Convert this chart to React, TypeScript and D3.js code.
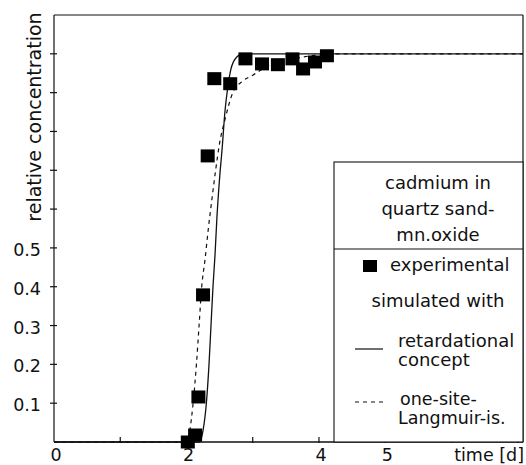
import React from "react";
import * as d3 from "d3";

const W = 526;
const H = 465;

// experimental points [time (d), relative concentration]
const expTime = [2.02, 2.13, 2.18, 2.25, 2.32, 2.42, 2.66, 2.89, 3.14, 3.38, 3.6, 3.76, 3.94, 4.12];
const expConc = [0.0, 0.018, 0.116, 0.379, 0.737, 0.936, 0.923, 0.987, 0.974, 0.972, 0.987, 0.961, 0.979, 0.995];

// simulated: retardational concept (solid)
const retTime = [0, 2.2, 2.25, 2.3, 2.34, 2.37, 2.4, 2.43, 2.46, 2.5, 2.54, 2.58, 2.62, 2.67, 2.75, 2.85, 7.08];
const retConc = [0, 0, 0.03, 0.1, 0.2, 0.3, 0.4, 0.48, 0.58, 0.68, 0.76, 0.85, 0.91, 0.96, 0.99, 1.0, 1.0];

// simulated: one-site Langmuir isotherm (dashed)
const lanTime = [0, 2.0, 2.05, 2.1, 2.15, 2.19, 2.23, 2.28, 2.33, 2.38, 2.44, 2.5, 2.58, 2.7, 2.85, 3.0, 3.3, 3.7, 4.2, 7.08];
const lanConc = [0, 0, 0.03, 0.1, 0.2, 0.3, 0.4, 0.47, 0.55, 0.62, 0.7, 0.77, 0.83, 0.9, 0.93, 0.945, 0.975, 0.99, 1.0, 1.0];

const yTicks = [0.1, 0.2, 0.3, 0.4, 0.5, 0.6, 0.7, 0.8, 0.9, 1.0];
const yTickLabels = ["0.1", "0.2", "0.3", "0.4", "0.5", "", "", "", "", ""];
const xTicks = [1, 2, 3, 4, 5, 6, 7];
const xLabelValues = [0, 2, 4, 5];
const xLabels = ["0", "2", "4", "5"];

const titleLines = ["cadmium in", "quartz sand-", "mn.oxide"];

const FONT = "DejaVu Sans, Liberation Sans, sans-serif";

export default function App() {
  const x = d3.scaleLinear().domain([0, 7.08]).range([54, 523]);
  const y = d3.scaleLinear().domain([0, 1.1]).range([442, 15]);

  const line = d3
    .line<[number, number]>()
    .x((d) => x(d[0]))
    .y((d) => y(d[1]))
    .curve(d3.curveMonotoneX);

  const retPts: [number, number][] = retTime.map((t, i) => [t, retConc[i]]);
  const lanPts: [number, number][] = lanTime.map((t, i) => [t, lanConc[i]]);

  const [x0, x1] = x.range();
  const [yb, yt] = y.range();

  const boxL = 334;
  const boxT = 162;
  const divY = 249;
  const ink = "#111";

  return (
    <div style={{ position: "fixed", left: 0, top: 0 }}>
      <svg width={W} height={H} style={{ display: "block", background: "#fff" }} fontFamily={FONT}>
        <rect x={0} y={0} width={W} height={H} fill="#fff" />
        {/* curves */}
        <path d={line(lanPts) || ""} fill="none" stroke={ink} strokeWidth={1.2} strokeDasharray="4,4" />
        <path d={line(retPts) || ""} fill="none" stroke={ink} strokeWidth={1.3} />
        {/* frame */}
        <line x1={x0} x2={x1} y1={yb} y2={yb} stroke={ink} strokeWidth={1.4} />
        <line x1={x0} x2={x0} y1={yb} y2={yt} stroke={ink} strokeWidth={1.2} />
        <line x1={x0} x2={x1} y1={yt} y2={yt} stroke={ink} strokeWidth={1.2} />
        <line x1={x1} x2={x1} y1={yt} y2={yb} stroke={ink} strokeWidth={1.2} />
        {/* y ticks */}
        {yTicks.map((v, i) => (
          <g key={"yt" + i}>
            <line x1={x0 - 4} x2={x0 + 3} y1={y(v)} y2={y(v)} stroke={ink} strokeWidth={1.2} />
            {yTickLabels[i] && (
              <text x={41} y={y(v) + 8} textAnchor="end" fontSize={17.5} fill={ink}>
                {yTickLabels[i]}
              </text>
            )}
          </g>
        ))}
        {/* x ticks */}
        {xTicks.map((v) => (
          <line key={"xt" + v} x1={x(v)} x2={x(v)} y1={yb + 1} y2={yb - 5} stroke={ink} strokeWidth={1.2} />
        ))}
        {xLabelValues.map((v, i) => (
          <text key={"xl" + v} x={x(v) + 2} y={461} textAnchor="middle" fontSize={17.5} fill={ink}>
            {xLabels[i]}
          </text>
        ))}
        <text x={524} y={461} textAnchor="end" fontSize={17.5} fill={ink}>
          time [d]
        </text>
        <text transform={`translate(41,117) rotate(-90)`} textAnchor="middle" fontSize={19} fill={ink}>
          relative concentration
        </text>
        {/* experimental squares */}
        {expTime.map((t, i) => (
          <rect key={"p" + i} x={x(t) - 7} y={y(expConc[i]) - 6.5} width={14} height={13} fill="#000" />
        ))}
        {/* legend box */}
        <rect x={boxL} y={boxT} width={x1 - boxL} height={yb - boxT} fill="#fff" stroke={ink} strokeWidth={1.1} />
        <line x1={boxL} x2={x1} y1={divY} y2={divY} stroke={ink} strokeWidth={1.1} />
        {titleLines.map((s, i) => (
          <text key={"tl" + i} x={438} y={189 + i * 26} textAnchor="middle" fontSize={18} fill={ink}>
            {s}
          </text>
        ))}
        <rect x={363} y={260} width={14} height={12} fill="#000" />
        <text x={390} y={271} fontSize={18} fill={ink}>
          experimental
        </text>
        <text x={438} y={307} textAnchor="middle" fontSize={18} fill={ink}>
          simulated with
        </text>
        <line x1={355} x2={383} y1={349} y2={349} stroke={ink} strokeWidth={1.2} />
        <text x={398} y={347} fontSize={18} fill={ink}>
          retardational
        </text>
        <text x={398} y={366} fontSize={18} fill={ink}>
          concept
        </text>
        <line x1={355} x2={383} y1={402} y2={402} stroke={ink} strokeWidth={1.2} strokeDasharray="4,4" />
        <text x={400} y={405} fontSize={17.5} fill={ink}>
          one-site-
        </text>
        <text x={398} y={424} fontSize={17.5} fill={ink}>
          Langmuir-is.
        </text>
      </svg>
    </div>
  );
}
